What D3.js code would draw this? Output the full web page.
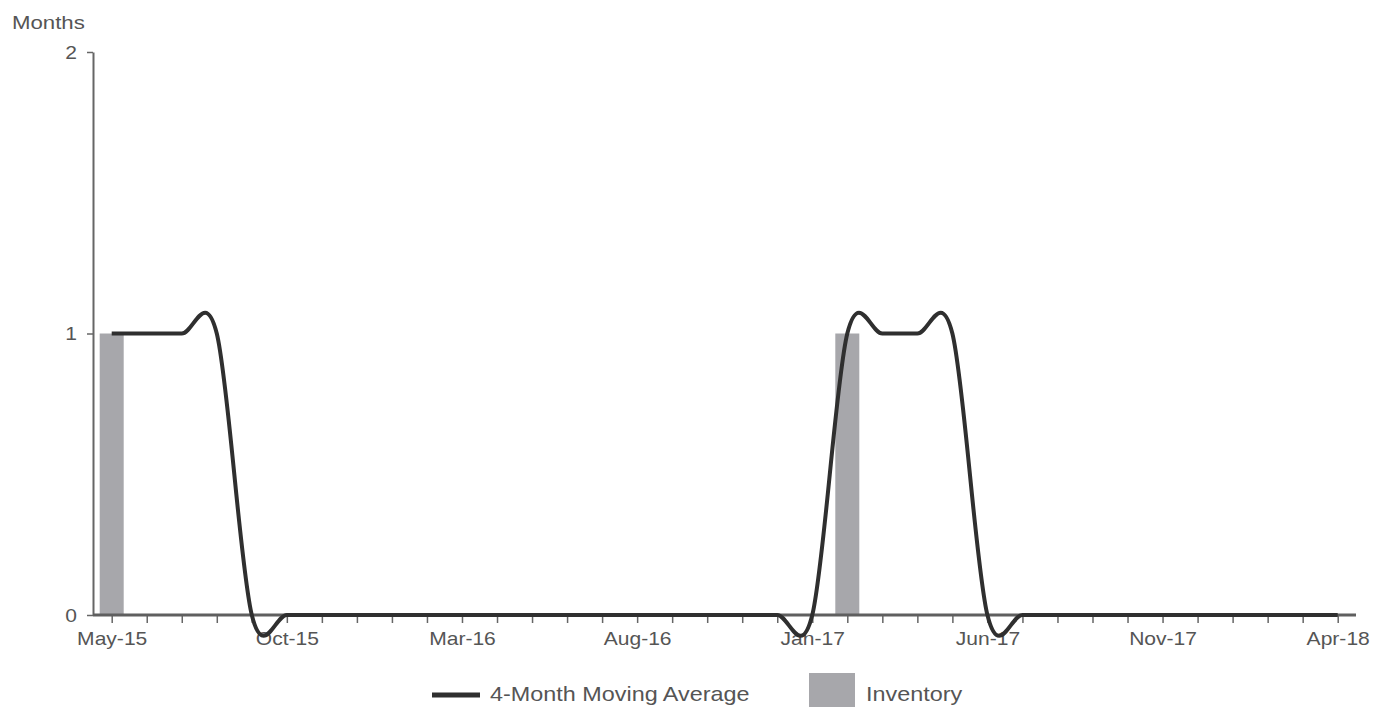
<!DOCTYPE html>
<html>
<head>
<meta charset="utf-8">
<script src="https://cdn.jsdelivr.net/npm/d3@7"></script>
<style>
  html, body { margin: 0; padding: 0; background: #fff; }
  svg { display: block; }
  text { font-family: "Liberation Sans", Arial, sans-serif; fill: #555; }
</style>
</head>
<body>
<svg id="chart" width="1389" height="707"></svg>
<script>
const months = [
  "May-15","Jun-15","Jul-15","Aug-15","Sep-15","Oct-15","Nov-15","Dec-15",
  "Jan-16","Feb-16","Mar-16","Apr-16","May-16","Jun-16","Jul-16","Aug-16",
  "Sep-16","Oct-16","Nov-16","Dec-16","Jan-17","Feb-17","Mar-17","Apr-17",
  "May-17","Jun-17","Jul-17","Aug-17","Sep-17","Oct-17","Nov-17","Dec-17",
  "Jan-18","Feb-18","Mar-18","Apr-18"
];
const inventory = [
  1,0,0,0,0,0,0,0, 0,0,0,0,0,0,0,0, 0,0,0,0,0,1,0,0, 0,0,0,0,0,0,0,0, 0,0,0,0
];
const movingAverage = [
  1,1,1,1,0,0,0,0, 0,0,0,0,0,0,0,0, 0,0,0,0,0,1,1,1, 1,0,0,0,0,0,0,0, 0,0,0,0
];
const labelledMonths = ["May-15","Oct-15","Mar-16","Aug-16","Jan-17","Jun-17","Nov-17","Apr-18"];
const yTicks = [0, 1, 2];
const yTitle = "Months";
const seriesNames = ["4-Month Moving Average", "Inventory"];

const svg = d3.select("#chart");
const SX = 1.17;

const x = d3.scalePoint().domain(months).range([111.7, 1337.7]);
const y = d3.scaleLinear().domain([0, 2]).range([615, 52]);

// Bars
const barW = 24;
svg.append("g").selectAll("rect")
  .data(months.map((m, i) => ({ m, v: inventory[i] })))
  .join("rect")
  .attr("x", d => x(d.m) - barW / 2)
  .attr("y", d => y(d.v))
  .attr("width", barW)
  .attr("height", d => y(0) - y(d.v))
  .attr("fill", "#a7a7ab");

// Y axis
const yAxis = svg.append("g")
  .attr("transform", "translate(93,0)")
  .call(d3.axisLeft(y).tickValues(yTicks).tickFormat(d3.format("d")).tickSize(6).tickSizeOuter(0));
yAxis.select(".domain").attr("stroke", "#666").attr("stroke-width", 2);
yAxis.selectAll(".tick line").attr("stroke", "#666").attr("stroke-width", 1.5);
yAxis.selectAll(".tick text")
  .attr("x", 0).attr("dy", "0.36em")
  .attr("transform", `translate(-16,0) scale(${SX},1)`)
  .style("font-size", "18px").attr("fill", "#555");

// X axis
const xAxis = svg.append("g")
  .attr("transform", "translate(0,615)")
  .call(d3.axisBottom(x).tickSize(8).tickSizeOuter(0)
    .tickFormat(d => labelledMonths.includes(d) ? d : ""));
xAxis.select(".domain").remove();
xAxis.selectAll(".tick line").attr("stroke", "#666").attr("stroke-width", 1.5);
xAxis.selectAll(".tick text")
  .attr("y", 30).attr("dy", 0)
  .attr("transform", `scale(${SX},1)`)
  .style("font-size", "18px").attr("fill", "#555");
svg.append("line")
  .attr("x1", 93).attr("x2", 1356)
  .attr("y1", y(0)).attr("y2", y(0))
  .attr("stroke", "#5f5f5f").attr("stroke-width", 3);

// Line
const line = d3.line()
  .x((d, i) => x(months[i]))
  .y(d => y(d))
  .curve(d3.curveCardinal.tension(0));
svg.append("path")
  .datum(movingAverage)
  .attr("d", line)
  .attr("fill", "none")
  .attr("stroke", "#2f2f2f")
  .attr("stroke-width", 4)
  .attr("stroke-linejoin", "round");

// Y title
svg.append("text")
  .attr("transform", `translate(12,29) scale(${SX},1)`)
  .style("font-size", "19px")
  .text(yTitle);

// Legend
const lg = svg.append("g");
lg.append("line")
  .attr("x1", 432).attr("x2", 480).attr("y1", 695).attr("y2", 695)
  .attr("stroke", "#2f2f2f").attr("stroke-width", 5);
lg.append("text")
  .attr("transform", `translate(490,701) scale(${SX},1)`)
  .style("font-size", "20px")
  .text(seriesNames[0]);
lg.append("rect")
  .attr("x", 809).attr("y", 673).attr("width", 46).attr("height", 46)
  .attr("fill", "#a7a7ab");
lg.append("text")
  .attr("transform", `translate(866,701) scale(${SX},1)`)
  .style("font-size", "20px")
  .text(seriesNames[1]);
</script>
</body>
</html>
